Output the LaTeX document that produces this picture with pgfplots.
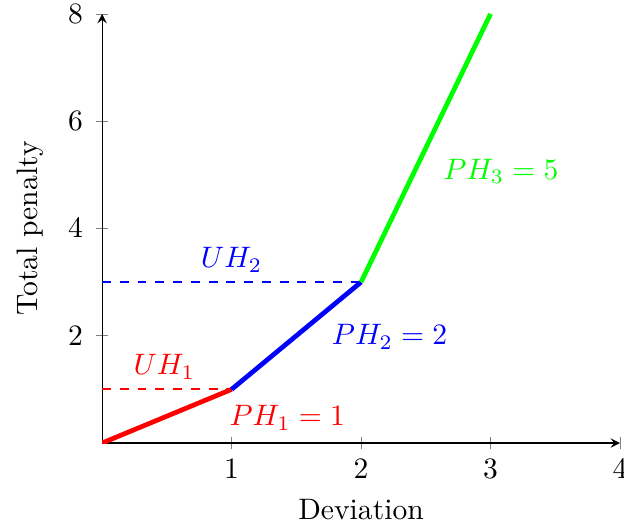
\documentclass[border=0pt]{standalone}
\usepackage{pgfplots}
\pgfplotsset{compat=1.18}
\begin{document}
\begin{tikzpicture}
\begin{axis}[
  scale only axis,
  width=175pt, height=145pt,
  axis lines=left,
  tick align=center,
  xmin=0, xmax=4, ymin=0, ymax=8,
  xtick={1,2,3,4}, ytick={2,4,6,8},
  yticklabel style={xshift=-0.8pt},
  ylabel shift=1.5pt,
  xlabel={Deviation}, ylabel={Total penalty},
]
\addplot[color=red, dashed, semithick] coordinates {(0,1) (1,1)};
\addplot[color=blue, dashed, semithick] coordinates {(0,3) (2,3)};
\addplot[color=red, ultra thick] coordinates {(0,0) (1,1)};
\addplot[color=blue, ultra thick] coordinates {(1,1) (2,3)};
\addplot[color=green, ultra thick] coordinates {(2,3) (3,8)};
\node[red] at (axis cs:0.48,1.42) {$UH_1$};
\node[red] at (axis cs:1.43,0.47) {$PH_1=1$};
\node[blue] at (axis cs:1.0,3.41) {$UH_2$};
\node[blue] at (axis cs:2.22,1.98) {$PH_2=2$};
\node[green] at (axis cs:3.08,5.06) {$PH_3=5$};
\end{axis}
\pgfresetboundingbox
\path ([xshift=-34.5pt,yshift=-27.7pt]current axis.south west) rectangle ([xshift=1.35pt,yshift=4.7pt]current axis.north east);
\end{tikzpicture}
\end{document}
